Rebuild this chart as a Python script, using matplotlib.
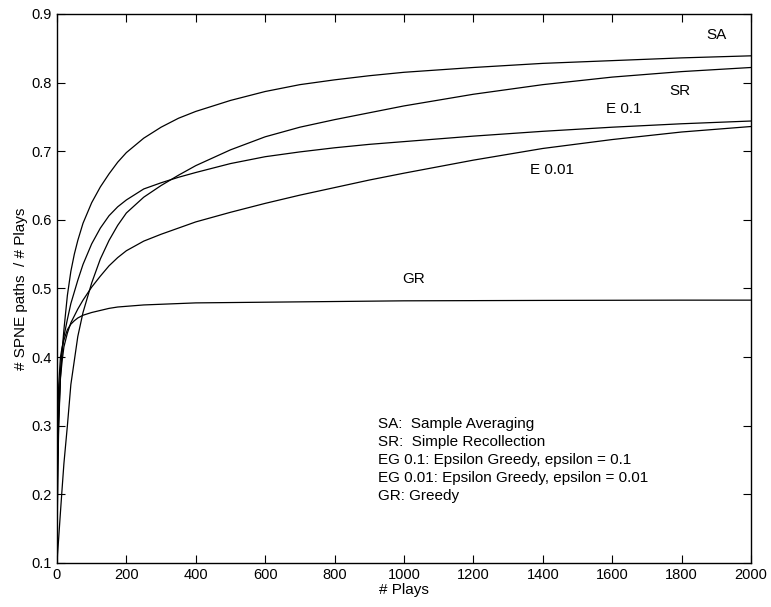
import numpy as np
import matplotlib
matplotlib.use("Agg")
import matplotlib.pyplot as plt

plt.rcParams['font.family'] = ['Liberation Sans', 'DejaVu Sans']

# plays sampled along the curves
plays = [0, 2, 5, 10, 15, 20, 30, 40, 50, 60, 75, 100, 125, 150, 175, 200,
         250, 300, 350, 400, 500, 600, 700, 800, 900, 1000, 1200, 1400, 1600,
         1800, 2000]

sa = [0.10, 0.22, 0.30, 0.37, 0.41, 0.44, 0.49, 0.525, 0.550, 0.570, 0.595,
      0.625, 0.648, 0.667, 0.684, 0.698, 0.719, 0.735, 0.748, 0.758, 0.774,
      0.787, 0.797, 0.804, 0.810, 0.815, 0.822, 0.828, 0.832, 0.836, 0.839]
sr = [0.10, 0.115, 0.137, 0.174, 0.21, 0.245, 0.30, 0.36, 0.395, 0.430, 0.465,
      0.508, 0.543, 0.570, 0.592, 0.610, 0.633, 0.650, 0.665, 0.679, 0.702,
      0.721, 0.735, 0.746, 0.756, 0.766, 0.783, 0.797, 0.808, 0.816, 0.822]
e01 = [0.10, 0.25, 0.32, 0.38, 0.41, 0.43, 0.455, 0.478, 0.495, 0.512, 0.535,
       0.565, 0.588, 0.606, 0.619, 0.629, 0.645, 0.654, 0.662, 0.669, 0.682,
       0.692, 0.699, 0.705, 0.710, 0.714, 0.722, 0.729, 0.735, 0.740, 0.744]
e001 = [0.10, 0.24, 0.31, 0.37, 0.395, 0.415, 0.435, 0.450, 0.460, 0.470,
        0.483, 0.502, 0.518, 0.533, 0.545, 0.555, 0.569, 0.579, 0.588, 0.597,
        0.611, 0.624, 0.636, 0.647, 0.658, 0.668, 0.687, 0.704, 0.717, 0.728,
        0.736]
gr = [0.10, 0.30, 0.36, 0.40, 0.415, 0.425, 0.440, 0.448, 0.453, 0.457, 0.461,
      0.465, 0.468, 0.471, 0.473, 0.474, 0.476, 0.477, 0.478, 0.479, 0.4795,
      0.480, 0.4805, 0.481, 0.4815, 0.482, 0.4823, 0.4826, 0.4828, 0.483, 0.483]

curve_labels = ["SA", "SR", "E 0.1", "E 0.01", "GR"]
label_pos = [(1902, 0.869), (1795, 0.788), (1634, 0.761), (1427, 0.673), (1029, 0.514)]

legend_lines = ["SA:  Sample Averaging",
                "SR:  Simple Recollection",
                "EG 0.1: Epsilon Greedy, epsilon = 0.1",
                "EG 0.01: Epsilon Greedy, epsilon = 0.01",
                "GR: Greedy"]
legend_y = [0.302, 0.276, 0.250, 0.224, 0.197]

fig = plt.figure(figsize=(7.71, 6.07), dpi=100)
ax = fig.add_axes([0.0739, 0.0725, 0.9001, 0.9045])

for ys in [sa, sr, e01, e001, gr]:
    ax.plot(plays, ys, color='black', lw=0.9)

for lab, (x, y) in zip(curve_labels, label_pos):
    ax.text(x, y, lab, ha='center', va='center', fontsize=11)

for line, y in zip(legend_lines, legend_y):
    ax.text(926, y, line, ha='left', va='center', fontsize=11)

ax.set_xlim(0, 2000)
ax.set_ylim(0.1, 0.9)
ax.set_xticks(np.arange(0, 2001, 200))
ax.set_yticks(np.arange(0.1, 0.91, 0.1))
ax.set_yticklabels(["%.1f" % v for v in np.arange(0.1, 0.91, 0.1)])
ax.tick_params(direction='in', top=True, right=True, length=5.5, labelsize=10.5,
               width=0.8)
for s in ax.spines.values():
    s.set_linewidth(1.0)

ax.set_xlabel("# Plays", fontsize=11, labelpad=1)
ax.set_ylabel("# SPNE paths  / # Plays", fontsize=11, labelpad=3)

fig.savefig("out.png", dpi=100)
